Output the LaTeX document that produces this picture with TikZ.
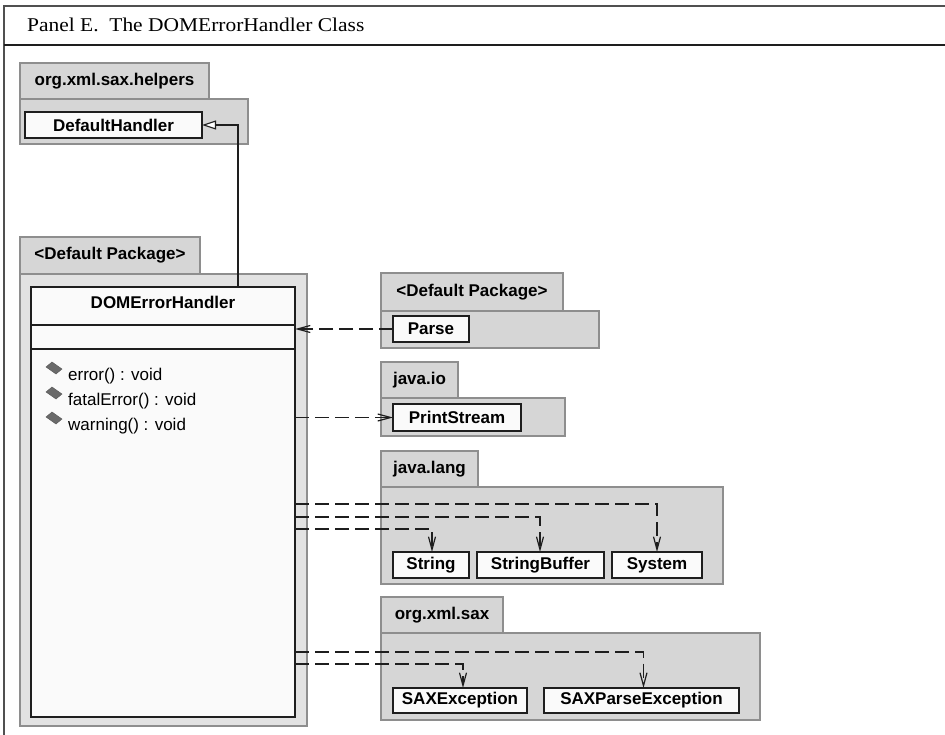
\documentclass[tikz,border=0pt]{standalone}
\usepackage{fontspec}
\setmainfont{Liberation Sans}
\newfontfamily\capfont[FakeStretch=1.1]{Liberation Serif}
\usetikzlibrary{arrows.meta}

\definecolor{pkgfill}{HTML}{D6D6D6}
\definecolor{pkgline}{HTML}{8E8E8E}
\definecolor{clsfill}{HTML}{FAFAFA}
\definecolor{clsline}{HTML}{1E1E1E}
\definecolor{frameline}{HTML}{505050}
\definecolor{iconfill}{HTML}{6A6A6A}

\newcommand\umlbold{\fontsize{17}{19}\selectfont\bfseries}
\newcommand\umlplain{\fontsize{17}{19}\selectfont}

\tikzset{
  box/.style={anchor=north west, inner sep=0pt, outer sep=0pt},
  pkgtab/.style={box, draw=pkgline, fill=pkgfill, line width=1.2pt, font=\umlbold},
  pkgbody/.style={box, draw=pkgline, fill=pkgfill, line width=1.2pt},
  cls/.style={box, draw=clsline, fill=clsfill, line width=1.6pt, font=\umlbold},
  method/.style={anchor=west, inner sep=0pt, font=\umlplain},
  dep/.style={draw=clsline, line width=1.4pt, dash pattern=on 14pt off 6pt,
    -{Straight Barb[length=13pt,width=7pt,line width=1.2pt]}},
  gen/.style={draw=clsline, line width=1.3pt,
    -{Triangle[open,length=14pt,width=9pt,fill=white,line width=1.1pt]}},
  mico/.style={fill=iconfill, draw=iconfill!80!black, line width=0.4pt},
}

\begin{document}
\begin{tikzpicture}[x=1pt,y=-1pt]
\useasboundingbox (0,0) rectangle (945,735);

% panel frame and caption
\draw[frameline, line width=2pt] (4,735) -- (4,6) -- (945,6);
\draw[clsline, line width=1.8pt] (4,45) -- (945,45);
\node[anchor=base west, inner sep=0pt, font=\capfont\fontsize{19.5}{22}\selectfont]
  (caption) at (27,32) {Panel E.\ \ The DOMErrorHandler Class};

% package org.xml.sax.helpers
\node[pkgtab, minimum width=189pt, minimum height=36pt] (helperstab) at (20,63) {org.xml.sax.helpers};
\node[pkgbody, minimum width=228pt, minimum height=45pt] (helpersbody) at (20,99) {};
\node[cls, minimum width=177pt, minimum height=26pt] (dh) at (25,112) {DefaultHandler};

% package <Default Package> holding DOMErrorHandler
\node[pkgtab, minimum width=180pt, minimum height=37pt] (deftab) at (20,237) {<Default Package>};
\node[pkgbody, minimum width=287pt, minimum height=452pt, fill=pkgfill!70!white] (defbody) at (20,274) {};
\node[cls, minimum width=264pt, minimum height=430pt] (domc) at (31,287) {};
\node[inner sep=0pt, font=\umlbold] (domname) at (163,302) {DOMErrorHandler};
\draw[clsline, line width=1.4pt] (31,325) -- (295,325);
\draw[clsline, line width=1.4pt] (31,349) -- (295,349);

\foreach \y/\nm/\txt in {376/m1/error() : void, 401/m2/fatalError() : void, 426/m3/warning() : void}{
  \filldraw[mico] (46,\y-9) -- (52,\y-14) -- (62,\y-7) -- (56,\y-2) -- cycle;
  \node[method] (\nm) at (68,\y) {\txt};
}

% package <Default Package> holding Parse
\node[pkgtab, minimum width=182pt, minimum height=38pt] (ptab) at (381,273) {<Default Package>};
\node[pkgbody, minimum width=218pt, minimum height=37pt] (pbody) at (381,311) {};
\node[cls, minimum width=76pt, minimum height=26pt] (parse) at (393,316) {Parse};

% package java.io
\node[pkgtab, minimum width=77pt, minimum height=36pt] (iotab) at (381,362) {java.io};
\node[pkgbody, minimum width=184pt, minimum height=38pt] (iobody) at (381,398) {};
\node[cls, minimum width=128pt, minimum height=27pt] (ps) at (393,404) {PrintStream};

% package java.lang
\node[pkgtab, minimum width=97pt, minimum height=36pt] (langtab) at (381,451) {java.lang};
\node[pkgbody, minimum width=342pt, minimum height=97pt] (langbody) at (381,487) {};
\node[cls, minimum width=76pt, minimum height=26pt] (str) at (393,552) {String};
\node[cls, minimum width=127pt, minimum height=26pt] (sb) at (477,552) {StringBuffer};
\node[cls, minimum width=90pt, minimum height=26pt] (sys) at (612,552) {System};

% package org.xml.sax
\node[pkgtab, minimum width=122pt, minimum height=36pt] (saxtab) at (381,597) {org.xml.sax};
\node[pkgbody, minimum width=379pt, minimum height=87pt] (saxbody) at (381,633) {};
\node[cls, minimum width=134pt, minimum height=25pt] (saxe) at (393,688) {SAXException};
\node[cls, minimum width=195pt, minimum height=25pt] (saxpe) at (544,688) {SAXParseException};

% connector end points on the DOMErrorHandler box
\coordinate (genfoot) at (238,287);
\coordinate (o1) at (295,504);
\coordinate (o2) at (295,517);
\coordinate (o3) at (295,529);
\coordinate (o4) at (295,652);
\coordinate (o5) at (295,664);

% generalization
\draw[gen] (genfoot) |- (dh.east);

% dependencies
\draw[dep] (parse.west) -- (parse.west -| domc.east);
\draw[dep] (domc.east |- ps.west) -- (ps.west);
\draw[dep] (o1) -| (sys.north);
\draw[dep] (o2) -| ([xshift=-0.5pt]sb.north);
\draw[dep] (o3) -| ([xshift=1pt]str.north);
\draw[dep] (o4) -| ([xshift=2pt]saxpe.north);
\draw[dep] (o5) -| ([xshift=3pt]saxe.north);
\end{tikzpicture}
\end{document}
